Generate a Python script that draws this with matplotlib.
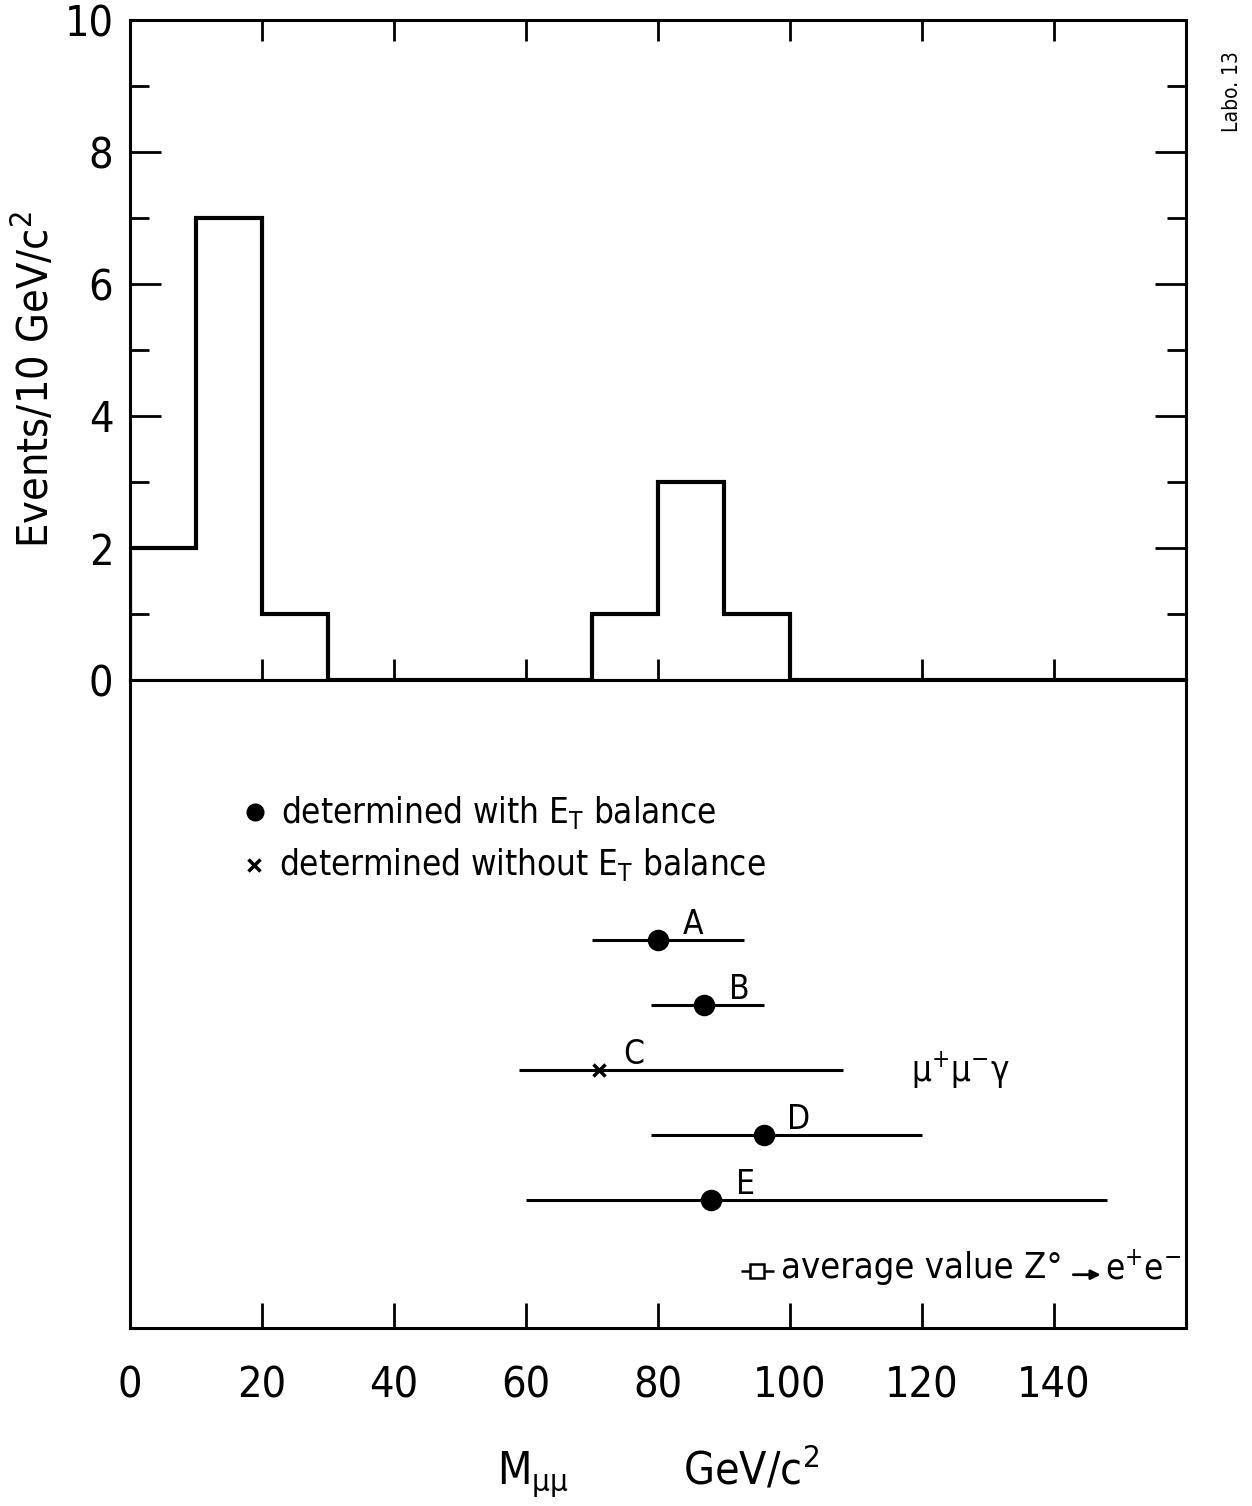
import matplotlib
matplotlib.use("Agg")
import matplotlib.pyplot as plt
import numpy as np

plt.rcParams['font.family'] = ['DejaVu Sans']
plt.rcParams['font.stretch'] = 'condensed'
plt.rcParams['mathtext.default'] = 'regular'

# ---- data ----
bin_edges = [0, 10, 20, 30, 40, 50, 60, 70, 80, 90, 100, 110, 120, 130, 140, 150, 160]
counts = [2, 7, 1, 0, 0, 0, 0, 1, 3, 1, 0, 0, 0, 0, 0, 0]

event_labels = ['A', 'B', 'C', 'D', 'E']
event_mass = [80, 87, 71, 96, 88]
event_low = [70, 79, 59, 79, 60]
event_high = [93, 96, 108, 120, 148]
with_et_balance = [True, True, False, True, True]

z_avg_mass = 95
z_avg_low = 92.5
z_avg_high = 97.5

x_ticks = [0, 20, 40, 60, 80, 100, 120, 140]
y_ticks = [0, 2, 4, 6, 8, 10]

# ---- layout ----
W_PX, H_PX = 1252, 1506
fig = plt.figure(figsize=(W_PX / 100, H_PX / 100), dpi=100)
left = 130 / W_PX
width = 1056 / W_PX
ax1 = fig.add_axes([left, 1 - 680 / H_PX, width, 660 / H_PX])
ax2 = fig.add_axes([left, 1 - 1328 / H_PX, width, 648 / H_PX])

lw_axis = 2.2
for ax in (ax1, ax2):
    for sp in ax.spines.values():
        sp.set_linewidth(lw_axis)
    ax.set_xlim(0, 160)

# ---- top panel ----
ax1.stairs(counts, bin_edges, color='black', linewidth=3.0, baseline=0)
ax1.set_ylim(0, 10)
ax1.set_yticks(y_ticks)
ax1.set_yticks(range(0, 11), minor=True)
ax1.set_yticklabels([str(v) for v in y_ticks], fontsize=31)
ax1.tick_params(axis='y', which='major', direction='in', length=22, width=2,
                left=True, right=True, pad=12)
ax1.tick_params(axis='y', which='minor', direction='in', length=14, width=2,
                left=True, right=True)
ax1.set_xticks(x_ticks[1:] + [160])
ax1.tick_params(axis='x', which='major', direction='in', length=15, width=2,
                top=True, bottom=True, labelbottom=False)
ax1.set_ylabel('Events/10 GeV/c$^2$', fontsize=31)
ax1.yaxis.set_label_coords(-0.068, 0.455)

# ---- bottom panel ----
rows = np.arange(len(event_labels))
for i, (lab, m, lo, hi, et) in enumerate(zip(event_labels, event_mass, event_low,
                                              event_high, with_et_balance)):
    ax2.errorbar([m], [rows[i]], xerr=[[m - lo], [hi - m]], fmt='o' if et else 'x',
                 color='black', markersize=13 if et else 9, mew=2.5,
                 elinewidth=2.2, capsize=0)
    ax2.annotate(lab, (m, rows[i]), xytext=(25, 11), textcoords='offset points',
                 ha='center', va='center', fontsize=24)

avg_row = 5.1
ax2.errorbar([z_avg_mass], [avg_row], xerr=[[z_avg_mass - z_avg_low], [z_avg_high - z_avg_mass]],
             fmt='s', mfc='white', mec='black', color='black', markersize=10, mew=1.8,
             elinewidth=1.8, capsize=0)
ax2.text(98.6, avg_row - 0.05, 'average value Z°', fontsize=26, ha='left', va='center')
ax2.annotate('', xy=(147.5, avg_row + 0.05), xytext=(142.5, avg_row + 0.05),
             arrowprops=dict(arrowstyle='-|>', color='black', lw=2, mutation_scale=14))
ax2.text(147.8, avg_row - 0.05, 'e$^{+}$e$^{-}$', fontsize=25, ha='left', va='center')

ax2.text(125.8, 2.0, 'μ$^{+}$μ$^{-}$γ', fontsize=25, ha='center', va='center')

# legend
ax2.plot([0.118], [0.796], 'o', color='black', markersize=12, transform=ax2.transAxes)
ax2.text(0.143, 0.796, 'determined with E$_T$ balance', fontsize=25,
         ha='left', va='center', transform=ax2.transAxes)
ax2.plot([0.117], [0.715], 'x', color='black', markersize=8, mew=2.5, transform=ax2.transAxes)
ax2.text(0.141, 0.715, 'determined without E$_T$ balance', fontsize=25,
         ha='left', va='center', transform=ax2.transAxes)

ax2.set_ylim(5.97, -4.0)
ax2.set_yticks([])
ax2.set_xticks(x_ticks, labels=[str(v) for v in x_ticks])
ax2.tick_params(axis='x', direction='in', length=18, width=2, pad=26, labelsize=31)
ax2.xaxis.get_major_ticks()[0].tick1line.set_visible(False)
ax2.set_xlabel('M$_{μμ}$         GeV/c$^2$', fontsize=32, labelpad=26)

fig.text(1232 / W_PX, 1 - 92 / H_PX, 'Labo. 13', rotation=90, fontsize=15,
         ha='center', va='center')

fig.savefig('out.png', dpi=100, facecolor='white')
